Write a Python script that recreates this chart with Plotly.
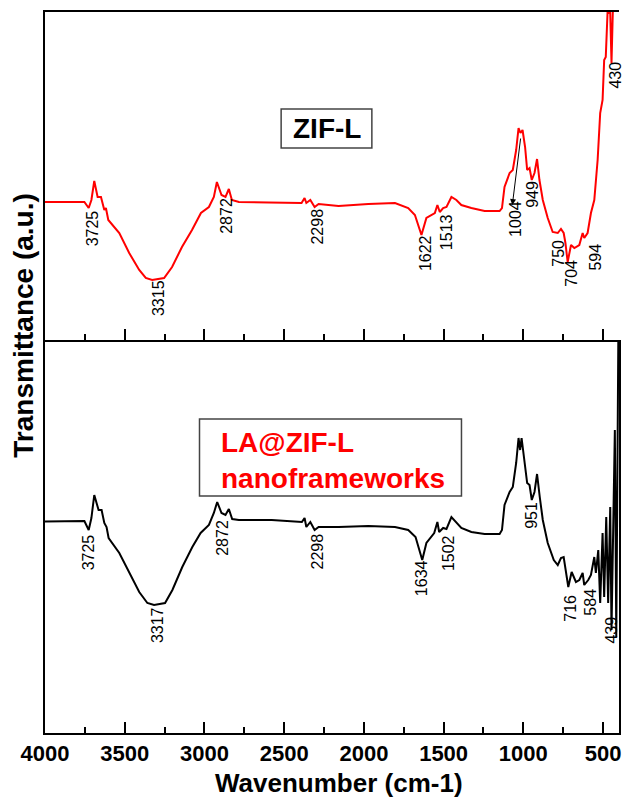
import plotly.graph_objects as go

# ---------------- data ----------------
# ZIF-L spectrum (top panel, arbitrary transmittance units)
zif_wn = [4000, 3909, 3753, 3726, 3709, 3691, 3670, 3649, 3628, 3618, 3603, 3534, 3472, 3409,
          3368, 3328, 3253, 3203, 3141, 3078, 3022, 2972, 2941, 2922, 2893, 2868, 2847, 2828,
          2784, 2597, 2391, 2372, 2361, 2336, 2309, 2284, 2159, 1972, 1805, 1722, 1680, 1639,
          1608, 1555, 1539, 1524, 1503, 1482, 1451, 1420, 1389, 1326, 1243, 1149, 1134, 1118,
          1086, 1066, 1045, 1030, 1018, 1005, 989, 976, 961, 947, 930, 914, 899, 878, 847, 816,
          784, 764, 747, 736, 722, 701, 680, 649, 628, 618, 597, 576, 555, 534, 518, 503, 493,
          483, 472, 455, 447, 439, 428, 409]
zif_t = [138, 138, 138, 132, 140, 159, 143, 143, 130, 132, 120, 107, 87, 70,
         62, 60, 62, 73, 93, 110, 127, 133, 143, 158, 145, 143, 151, 140,
         138, 137.5, 137, 142, 137, 140, 133, 136, 134, 136, 137, 132, 125, 105,
         122, 127, 135, 128, 132, 133, 143, 140, 135, 132, 129, 129, 132, 153,
         167, 170, 190, 212, 207, 210, 193, 170, 172, 160, 167, 181, 160, 140, 122, 108,
         107, 111, 107, 97, 78, 95, 92, 95, 107, 102, 107, 127, 140, 180, 227, 240, 280,
         283, 327, 327, 277, 327, 345, 360]

# LA@ZIF-L nanoframeworks spectrum (bottom panel)
la_wn = [4000, 3753, 3726, 3709, 3691, 3664, 3645, 3628, 3614, 3601, 3534, 3472, 3409, 3358,
         3316, 3247, 3201, 3139, 3076, 3024, 2972, 2941, 2920, 2893, 2868, 2847, 2826, 2784,
         2578, 2389, 2372, 2361, 2336, 2309, 2284, 2159, 1972, 1805, 1722, 1676, 1634, 1608,
         1559, 1539, 1528, 1503, 1482, 1451, 1420, 1389, 1326, 1243, 1149, 1134, 1118, 1086,
         1066, 1045, 1030, 1020, 1011, 1001, 989, 976, 961, 947, 930, 914, 897, 878, 847, 809,
         784, 764, 747, 732, 718, 697, 670, 649, 628, 618, 593, 576, 555, 545, 530, 518, 503,
         493, 480, 468, 455, 447, 434, 426, 417, 409, 404]
la_t = [211.5, 212, 203, 215, 238, 223, 223, 210, 206, 195, 180, 160, 141, 130,
        128, 130, 143, 166, 186, 200, 208, 220, 231, 220, 218, 224, 214, 213,
        213, 211, 215, 206, 211, 203, 206, 206, 207, 206, 203, 196, 173, 190,
        200, 211, 201, 205, 204, 216, 210, 205, 201, 199, 199, 203, 228, 241,
        246, 270, 295, 283, 295, 283, 270, 250, 248, 233, 241, 259, 236, 213, 190, 173,
        168, 175, 176, 160, 146, 161, 151, 153, 160, 148, 153, 158, 176, 160, 183, 130, 200,
        136, 216, 130, 226, 103, 233, 303, 96, 346, 400]

# peak labels
zif_peaks = ["3725", "3315", "2872", "2298", "1622", "1513", "1004", "949", "750", "704", "594", "430"]
la_peaks = ["3725", "3317", "2872", "2298", "1634", "1502", "951", "716", "584", "439"]

x_ticks = [4000, 3500, 3000, 2500, 2000, 1500, 1000, 500]

# ---------------- placement (styling) ----------------
zif_label_pos = [(3703, 112), (3291, 42), (2866, 124), (2297, 113), (1616, 87), (1484, 108),
                 (1053, 121), (947, 146), (784, 87), (703, 67), (553, 83), (428, 265)]
la_label_pos = [(3728, 181), (3297, 108), (2891, 195), (2291, 182), (1641, 155), (1472, 180),
                (953, 218), (709, 125), (584, 131), (453, 103)]

FONT = "Liberation Sans, Arial, sans-serif"

fig = go.Figure()
fig.add_trace(go.Scatter(x=zif_wn, y=zif_t, mode="lines", line=dict(color="#ff0000", width=2),
                         xaxis="x", yaxis="y", showlegend=False))
fig.add_trace(go.Scatter(x=la_wn, y=la_t, mode="lines", line=dict(color="#000000", width=2),
                         xaxis="x2", yaxis="y2", showlegend=False))

annotations = []
for txt, (px, py) in zip(zif_peaks, zif_label_pos):
    annotations.append(dict(x=px, y=py, xref="x", yref="y", text=txt, showarrow=False,
                            textangle=-90, font=dict(family=FONT, size=16, color="black")))
for txt, (px, py) in zip(la_peaks, la_label_pos):
    annotations.append(dict(x=px, y=py, xref="x2", yref="y2", text=txt, showarrow=False,
                            textangle=-90, font=dict(family=FONT, size=16, color="black")))

# arrow for 1004
annotations.append(dict(x=1069, y=135, ax=1016, ay=203, xref="x", yref="y", axref="x", ayref="y",
                        text="", showarrow=True, arrowhead=2, arrowsize=1.2, arrowwidth=1,
                        arrowcolor="black"))

# box texts
annotations.append(dict(x=2234, y=211.5, xref="x", yref="y", text="ZIF-L", showarrow=False,
                        font=dict(family=FONT, size=28, color="black", weight="bold")))
annotations.append(dict(x=2906, y=273, xref="x2", yref="y2", text="LA@ZIF-L<br>nanoframeworks",
                        showarrow=False, xanchor="left", align="left",
                        font=dict(family=FONT, size=28, color="#ff0000", weight="bold")))

# axis titles
annotations.append(dict(x=-0.0365, y=0.565, xref="paper", yref="paper", text="Transmittance (a.u.)",
                        showarrow=False, textangle=-90, xanchor="center", yanchor="middle",
                        font=dict(family=FONT, size=28, color="black", weight="bold")))
annotations.append(dict(x=0.512, y=-0.0693, xref="paper", yref="paper", text="Wavenumber (cm-1)",
                        showarrow=False, xanchor="center", yanchor="middle",
                        font=dict(family=FONT, size=26, color="black", weight="bold")))

shapes = [
    dict(type="rect", xref="x", yref="y", x0=2519, x1=1950, y0=192, y1=231,
         line=dict(color="#444444", width=1.5), fillcolor="rgba(0,0,0,0)"),
    dict(type="rect", xref="x2", yref="y2", x0=3031, x1=1388, y0=237, y1=314,
         line=dict(color="#444444", width=1.5), fillcolor="rgba(0,0,0,0)"),
]

split = 393 / 721

common_x = dict(range=[4000, 400], showline=True, linecolor="black", linewidth=2,
                ticks="inside", ticklen=11, tickwidth=2, tickcolor="black",
                tickvals=x_ticks, showgrid=False, zeroline=False,
                minor=dict(ticks="inside", ticklen=6, tickwidth=2, tickcolor="black", dtick=250,
                           tick0=0, showgrid=False))

fig.update_layout(
    width=626, height=803,
    margin=dict(l=45, r=5, t=12, b=70),
    paper_bgcolor="white", plot_bgcolor="white",
    xaxis=dict(**common_x, anchor="y", mirror=True, showticklabels=False),
    xaxis2=dict(**common_x, anchor="y2", showticklabels=True,
                tickfont=dict(family=FONT, size=22, color="black", weight="bold")),
    yaxis=dict(domain=[split, 1], range=[0, 328], showline=True, linecolor="black", linewidth=2,
               ticks="", showticklabels=False, showgrid=False, zeroline=False),
    yaxis2=dict(domain=[0, split], range=[0, 393], showline=True, linecolor="black", linewidth=2,
                mirror=True, ticks="", showticklabels=False, showgrid=False, zeroline=False),
    annotations=annotations,
    shapes=shapes,
    showlegend=False,
)

fig.write_html("out.html")
